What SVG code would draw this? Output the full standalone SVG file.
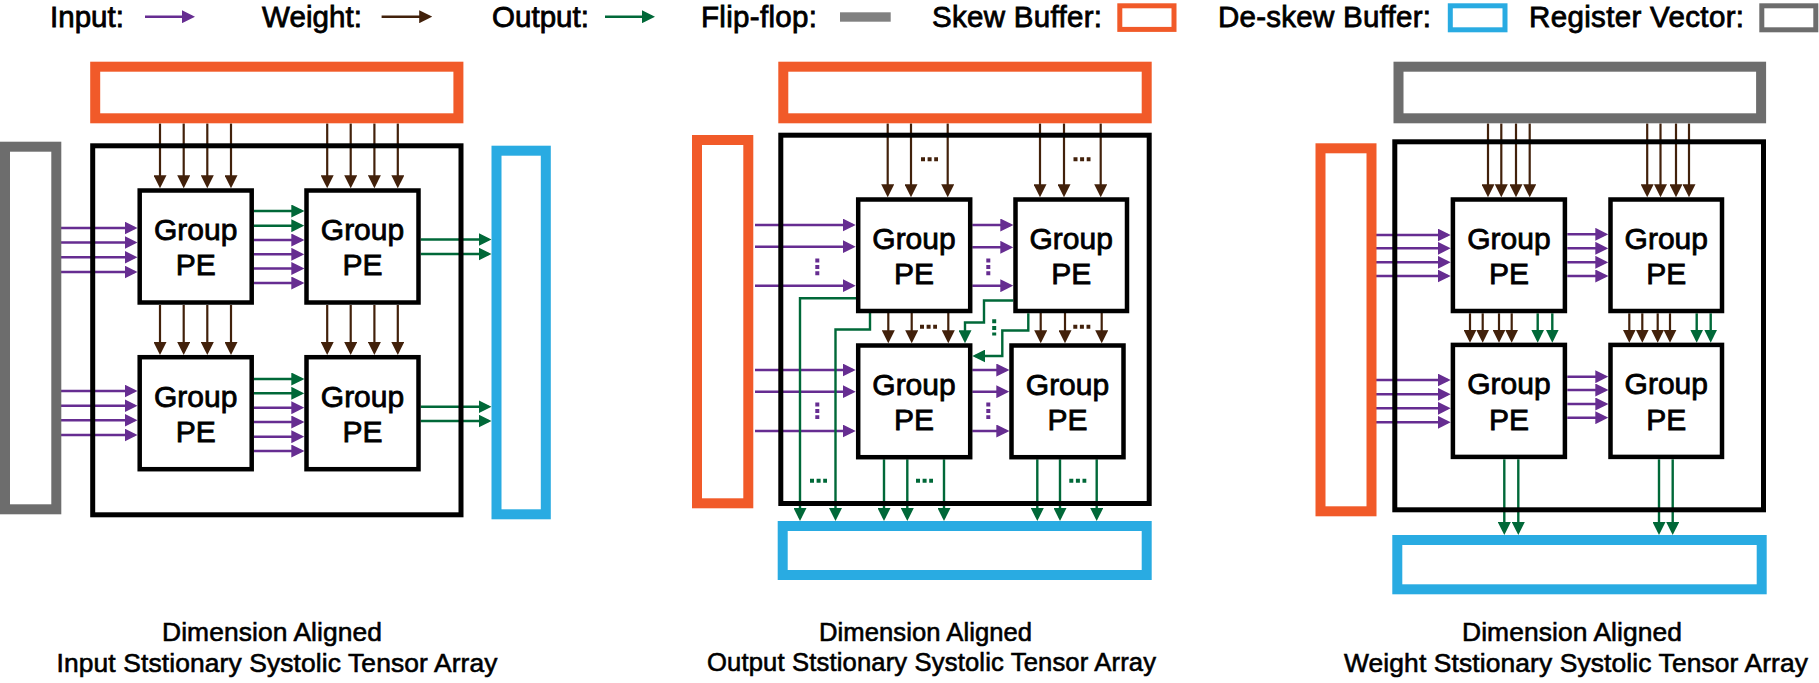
<svg xmlns="http://www.w3.org/2000/svg" width="1819" height="683" viewBox="0 0 1819 683">
<style>
.pe{fill:#fff;stroke:#000;stroke-width:4.5}
.frame{fill:none;stroke:#000;stroke-width:5}
.skew{fill:none;stroke:#f15a29;stroke-width:10}
.deskew{fill:none;stroke:#29abe2;stroke-width:10}
.reg{fill:none;stroke:#6d6d6d;stroke-width:10}
.skewL{fill:none;stroke:#f15a29;stroke-width:5}
.deskewL{fill:none;stroke:#29abe2;stroke-width:5}
.regL{fill:none;stroke:#6d6d6d;stroke-width:5}
.in{fill:none;stroke:#662d91;stroke-width:2.4;marker-end:url(#mp)}
.w{fill:none;stroke:#42210b;stroke-width:2.2;marker-end:url(#mb)}
.out{fill:none;stroke:#006838;stroke-width:2.4;marker-end:url(#mg)}
.dp{fill:none;stroke:#662d91;stroke-width:4;stroke-dasharray:4 2.4}
.db{fill:none;stroke:#42210b;stroke-width:4;stroke-dasharray:4 2.6}
.dg{fill:none;stroke:#006838;stroke-width:4;stroke-dasharray:4 2.6}
text{font-family:"Liberation Sans",Arial,Helvetica,sans-serif;fill:#000;stroke:#000;stroke-width:0.8px}
.lbl{font-size:30px;text-anchor:middle}
.leg{font-size:29.5px}
.cap{font-size:26.4px;stroke-width:0.6px}
</style>
<defs>
<marker id="mp" viewBox="0 0 13 13" refX="10" refY="6.5" markerWidth="13" markerHeight="13" markerUnits="userSpaceOnUse" orient="auto"><path d="M0,0 L13,6.5 L0,13 z" fill="#662d91"/></marker>
<marker id="mb" viewBox="0 0 13 13" refX="10" refY="6.5" markerWidth="13" markerHeight="13" markerUnits="userSpaceOnUse" orient="auto"><path d="M0,0 L13,6.5 L0,13 z" fill="#42210b"/></marker>
<marker id="mg" viewBox="0 0 13 13" refX="10" refY="6.5" markerWidth="13" markerHeight="13" markerUnits="userSpaceOnUse" orient="auto"><path d="M0,0 L13,6.5 L0,13 z" fill="#006838"/></marker>
</defs>
<rect width="1819" height="683" fill="#fff"/>

<g id="legend">
<text class="leg" x="50" y="27" textLength="74">Input:</text>
<path class="in" d="M145 16.7 H192"/>
<text class="leg" x="262" y="27" textLength="100">Weight:</text>
<path class="w" d="M381.6 16.7 H429.2" style="stroke-width:2.4"/>
<text class="leg" x="492" y="27" textLength="97">Output:</text>
<path class="out" d="M605 16.7 H652"/>
<text class="leg" x="701" y="27" textLength="116">Flip-flop:</text>
<rect x="840" y="12.3" width="50.7" height="9.4" fill="#808080"/>
<text class="leg" x="932" y="27" textLength="170">Skew Buffer:</text>
<rect class="skewL" x="1119.8" y="5.8" width="54.2" height="23.6"/>
<text class="leg" x="1218" y="27" textLength="213">De-skew Buffer:</text>
<rect class="deskewL" x="1450.3" y="5.8" width="54.7" height="24"/>
<text class="leg" x="1529" y="27" textLength="215">Register Vector:</text>
<rect class="regL" x="1761.8" y="5.8" width="54" height="24"/>
</g>

<g id="connectors">
<!-- Panel 1 -->
<path class="w" d="M160 123.5V185.3"/><path class="w" d="M183.7 123.5V185.3"/><path class="w" d="M207.3 123.5V185.3"/><path class="w" d="M231 123.5V185.3"/>
<path class="w" d="M327.2 123.5V185.3"/><path class="w" d="M350.7 123.5V185.3"/><path class="w" d="M374.4 123.5V185.3"/><path class="w" d="M397.8 123.5V185.3"/>
<path class="w" d="M160 305V352"/><path class="w" d="M183.7 305V352"/><path class="w" d="M207.3 305V352"/><path class="w" d="M231 305V352"/>
<path class="w" d="M327.2 305V352"/><path class="w" d="M350.7 305V352"/><path class="w" d="M374.4 305V352"/><path class="w" d="M397.8 305V352"/>
<path class="in" d="M61 228H134.5"/><path class="in" d="M61 242.5H134.5"/><path class="in" d="M61 257.3H134.5"/><path class="in" d="M61 272H134.5"/>
<path class="in" d="M61 391H134.5"/><path class="in" d="M61 405.7H134.5"/><path class="in" d="M61 420.3H134.5"/><path class="in" d="M61 435H134.5"/>
<path class="out" d="M254 211H301.3"/><path class="out" d="M254 225.7H301.3"/>
<path class="in" d="M254 240H301.3"/><path class="in" d="M254 254.3H301.3"/><path class="in" d="M254 268.5H301.3"/><path class="in" d="M254 283H301.3"/>
<path class="out" d="M254 379H301.3"/><path class="out" d="M254 393.3H301.3"/>
<path class="in" d="M254 407.7H301.3"/><path class="in" d="M254 422H301.3"/><path class="in" d="M254 436.7H301.3"/><path class="in" d="M254 451H301.3"/>
<path class="out" d="M420.7 239.5H488.5"/><path class="out" d="M420.7 254H488.5"/>
<path class="out" d="M420.7 406.7H488.5"/><path class="out" d="M420.7 421H488.5"/>

<!-- Panel 2 -->
<path class="w" d="M887.7 123.5V194.3"/><path class="w" d="M911 123.5V194.3"/><path class="w" d="M947.7 123.5V194.3"/>
<path class="w" d="M1040 123.5V194.3"/><path class="w" d="M1064 123.5V194.3"/><path class="w" d="M1100.7 123.5V194.3"/>
<path class="w" d="M888.3 313V340.3"/><path class="w" d="M911.7 313V340.3"/><path class="w" d="M948.3 313V340.3"/>
<path class="w" d="M1040.7 313V340.3"/><path class="w" d="M1065 313V340.3"/><path class="w" d="M1101.7 313V340.3"/>
<path class="db" d="M921 159.3H938M1073.5 159.3H1090.5M920 326.7H937M1073.3 326.7H1090.3"/>
<path class="in" d="M755 225H852.7"/><path class="in" d="M755 246.7H852.7"/><path class="in" d="M755 285.7H852.7"/>
<path class="in" d="M972.3 225H1010.3"/><path class="in" d="M972.3 247.3H1010.3"/><path class="in" d="M972.3 285.7H1010.3"/>
<path class="in" d="M755 370H852.7"/><path class="in" d="M755 391.7H852.7"/><path class="in" d="M755 431H852.7"/>
<path class="in" d="M972.3 370H1006.3"/><path class="in" d="M972.3 391.7H1006.3"/><path class="in" d="M972.3 431H1006.3"/>
<path class="dp" d="M817.3 258.5V275.5M988.3 258.5V275.5M817.3 402.5V419M988.3 402.5V419"/>
<path class="out" d="M856 298.3H800V518"/>
<path class="out" d="M870 312.7V329.5H835.5V518"/>
<path class="out" d="M1013.3 300.5H984V322.5H965V340.3"/>
<path class="out" d="M1028.3 313.3V330.5H1002.3V356H975.3"/>
<path class="out" d="M884 459.3V518"/><path class="out" d="M907.3 459.3V518"/><path class="out" d="M944 459.3V518"/>
<path class="out" d="M1037.3 459.3V518"/><path class="out" d="M1060 459.3V518"/><path class="out" d="M1096.7 459.3V518"/>
<path class="dg" d="M994.2 319.3V335.5"/>
<path class="dg" d="M810 480.7H827M916 480.7H933M1069.3 480.7H1086.3"/>

<!-- Panel 3 -->
<path class="w" d="M1488 123.5V194.3"/><path class="w" d="M1501.3 123.5V194.3"/><path class="w" d="M1516 123.5V194.3"/><path class="w" d="M1529.7 123.5V194.3"/>
<path class="w" d="M1647.2 123.5V194.3"/><path class="w" d="M1660.5 123.5V194.3"/><path class="w" d="M1676 123.5V194.3"/><path class="w" d="M1689 123.5V194.3"/>
<path class="w" d="M1470 313.3V339.7"/><path class="w" d="M1482.7 313.3V339.7"/><path class="w" d="M1499 313.3V339.7"/><path class="w" d="M1511.7 313.3V339.7"/>
<path class="w" d="M1629.3 313.3V339.7"/><path class="w" d="M1642.3 313.3V339.7"/><path class="w" d="M1657.7 313.3V339.7"/><path class="w" d="M1670 313.3V339.7"/>
<path class="out" d="M1537.7 313.3V339.7"/><path class="out" d="M1552.3 313.3V339.7"/>
<path class="out" d="M1696.7 313.3V339.7"/><path class="out" d="M1710.7 313.3V339.7"/>
<path class="in" d="M1376 235H1447.7"/><path class="in" d="M1376 248.3H1447.7"/><path class="in" d="M1376 262.3H1447.7"/><path class="in" d="M1376 276H1447.7"/>
<path class="in" d="M1567.3 234.3H1605.3"/><path class="in" d="M1567.3 248.3H1605.3"/><path class="in" d="M1567.3 262.3H1605.3"/><path class="in" d="M1567.3 276H1605.3"/>
<path class="in" d="M1376 380H1447.7"/><path class="in" d="M1376 394.3H1447.7"/><path class="in" d="M1376 408.3H1447.7"/><path class="in" d="M1376 422.3H1447.7"/>
<path class="in" d="M1567.3 376.7H1605.3"/><path class="in" d="M1567.3 390H1605.3"/><path class="in" d="M1567.3 404H1605.3"/><path class="in" d="M1567.3 417.7H1605.3"/>
<path class="out" d="M1504.3 459.3V532"/><path class="out" d="M1518.3 459.3V532"/>
<path class="out" d="M1659 459.3V532"/><path class="out" d="M1672.7 459.3V532"/>
</g>

<g id="panel1">
<g id="p1-skew"><rect class="skew" x="95.2" y="66.7" width="363.2" height="51.6"/></g>
<g id="p1-register"><rect class="reg" x="5" y="146.7" width="51.3" height="362.6"/></g>
<g id="p1-deskew"><rect class="deskew" x="496.5" y="150.7" width="49.3" height="363.6"/></g>
<g id="p1-array"><rect class="frame" x="92.7" y="145.8" width="368.3" height="369"/></g>
<g id="p1-pe11"><rect class="pe" x="139.7" y="190.5" width="112" height="112"/><text class="lbl" x="195.7" y="239.8">Group</text><text class="lbl" x="195.7" y="275.3">PE</text></g>
<g id="p1-pe12"><rect class="pe" x="306.5" y="190.5" width="112" height="112"/><text class="lbl" x="362.5" y="239.8">Group</text><text class="lbl" x="362.5" y="275.3">PE</text></g>
<g id="p1-pe21"><rect class="pe" x="139.7" y="357.2" width="112" height="112"/><text class="lbl" x="195.7" y="406.5">Group</text><text class="lbl" x="195.7" y="442">PE</text></g>
<g id="p1-pe22"><rect class="pe" x="306.5" y="357.2" width="112" height="112"/><text class="lbl" x="362.5" y="406.5">Group</text><text class="lbl" x="362.5" y="442">PE</text></g>
<text class="cap" x="162" y="641" textLength="220">Dimension Aligned</text>
<text class="cap" x="56.5" y="672" textLength="441">Input Ststionary Systolic Tensor Array</text>
</g>

<g id="panel2">
<g id="p2-skew-top"><rect class="skew" x="783.3" y="66.7" width="363.4" height="51.6"/></g>
<g id="p2-skew-left"><rect class="skew" x="697" y="140" width="51.3" height="363.3"/></g>
<g id="p2-deskew"><rect class="deskew" x="782.7" y="526" width="364" height="49"/></g>
<g id="p2-array"><rect class="frame" x="780.8" y="135.2" width="368.4" height="368.3"/></g>
<g id="p2-pe11"><rect class="pe" x="858.2" y="199.5" width="112" height="111.5"/><text class="lbl" x="914" y="248.8">Group</text><text class="lbl" x="914" y="284.3">PE</text></g>
<g id="p2-pe12"><rect class="pe" x="1015.5" y="199.5" width="111.5" height="111.5"/><text class="lbl" x="1071.2" y="248.8">Group</text><text class="lbl" x="1071.2" y="284.3">PE</text></g>
<g id="p2-pe21"><rect class="pe" x="858.2" y="345.5" width="112" height="111.7"/><text class="lbl" x="914" y="394.8">Group</text><text class="lbl" x="914" y="430.3">PE</text></g>
<g id="p2-pe22"><rect class="pe" x="1011.5" y="345.5" width="112" height="111.7"/><text class="lbl" x="1067.5" y="394.8">Group</text><text class="lbl" x="1067.5" y="430.3">PE</text></g>
<text class="cap" x="819" y="640.7" textLength="213" style="font-size:25.6px">Dimension Aligned</text>
<text class="cap" x="707" y="670.5" textLength="449" style="font-size:25.6px">Output Ststionary Systolic Tensor Array</text>
</g>

<g id="panel3">
<g id="p3-register"><rect class="reg" x="1398.5" y="66.7" width="362.6" height="51.6"/></g>
<g id="p3-skew"><rect class="skew" x="1320.5" y="148.3" width="51" height="363"/></g>
<g id="p3-deskew"><rect class="deskew" x="1397.3" y="540" width="364.4" height="49.3"/></g>
<g id="p3-array"><rect class="frame" x="1394.8" y="141.8" width="368.7" height="368"/></g>
<g id="p3-pe11"><rect class="pe" x="1452.9" y="199.5" width="112" height="111.5"/><text class="lbl" x="1508.9" y="248.8">Group</text><text class="lbl" x="1508.9" y="284.3">PE</text></g>
<g id="p3-pe12"><rect class="pe" x="1610.5" y="199.5" width="111.5" height="111.5"/><text class="lbl" x="1666.3" y="248.8">Group</text><text class="lbl" x="1666.3" y="284.3">PE</text></g>
<g id="p3-pe21"><rect class="pe" x="1452.9" y="344.9" width="112" height="112"/><text class="lbl" x="1508.9" y="394.2">Group</text><text class="lbl" x="1508.9" y="429.7">PE</text></g>
<g id="p3-pe22"><rect class="pe" x="1610.5" y="344.9" width="111.5" height="112"/><text class="lbl" x="1666.3" y="394.2">Group</text><text class="lbl" x="1666.3" y="429.7">PE</text></g>
<text class="cap" x="1462" y="641" textLength="220">Dimension Aligned</text>
<text class="cap" x="1344" y="672" textLength="464">Weight Ststionary Systolic Tensor Array</text>
</g>
</svg>
